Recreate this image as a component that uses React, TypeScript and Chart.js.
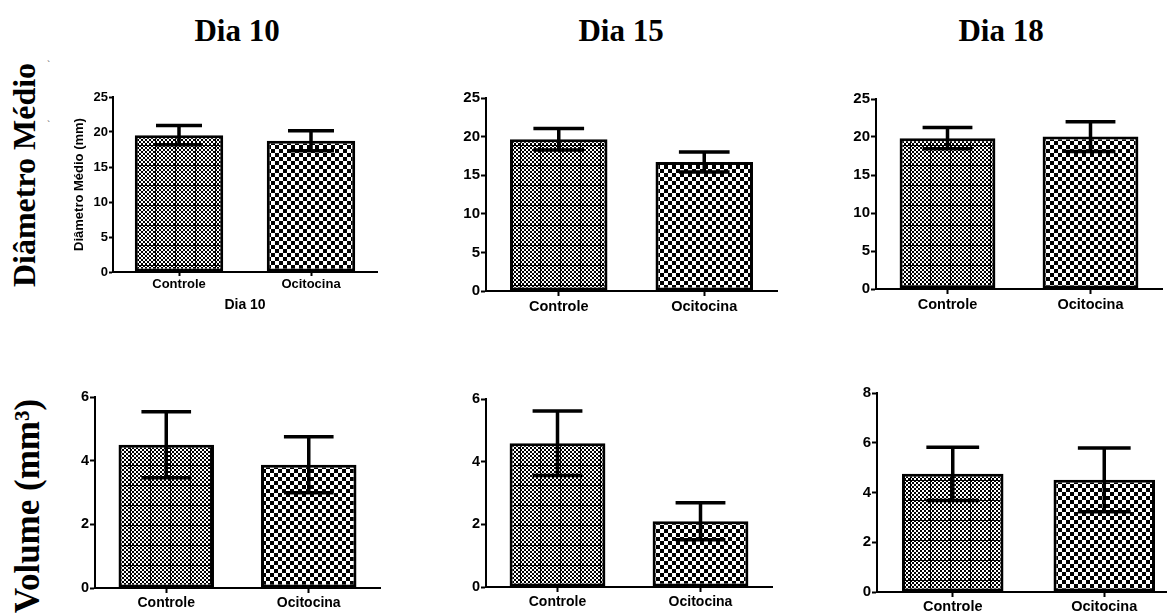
import React, { useEffect, useRef } from "react";
import { Chart, registerables } from "chart.js";

Chart.register(...registerables);

// ---------- data ----------
const categories = ["Controle", "Ocitocina"];
const dayTitles = ["Dia 10", "Dia 15", "Dia 18"];
const rowTitles = ["Diâmetro Médio", "Volume (mm³)"];

const diametroDia10 = [19.55, 18.76];
const diametroDia10Erro = [1.38, 1.43];
const diametroDia15 = [19.65, 16.7];
const diametroDia15Erro = [1.4, 1.3];
const diametroDia18 = [19.84, 20.05];
const diametroDia18Erro = [1.4, 1.96];

const volumeDia10 = [4.5, 3.87];
const volumeDia10Erro = [1.04, 0.88];
const volumeDia15 = [4.59, 2.1];
const volumeDia15Erro = [1.03, 0.59];
const volumeDia18 = [4.75, 4.51];
const volumeDia18Erro = [1.07, 1.28];

const diametroAxis = { max: 25, step: 5 };
const volumeAxis = { max: 6, step: 2 };
const volumeAxisDia18 = { max: 8, step: 2 };

const panel1YTitle = "Diâmetro Médio (mm)";
const panel1XTitle = "Dia 10";

// ---------- helpers ----------
function makeFinePattern(ctx: CanvasRenderingContext2D) {
  const c = document.createElement("canvas");
  c.width = 20;
  c.height = 20;
  const g = c.getContext("2d")!;
  g.fillStyle = "#fff";
  g.fillRect(0, 0, 20, 20);
  g.fillStyle = "#000";
  for (let y = 0; y < 20; y += 2) {
    for (let x = 0; x < 20; x += 2) {
      if (((x + y) / 2) % 2 === 0) g.fillRect(x, y, 2, 2);
    }
  }
  g.fillRect(0, 0, 20, 1);
  g.fillRect(0, 0, 1, 20);
  return ctx.createPattern(c, "repeat")!;
}

function makeCoarsePattern(ctx: CanvasRenderingContext2D) {
  const c = document.createElement("canvas");
  c.width = 8;
  c.height = 8;
  const g = c.getContext("2d")!;
  g.fillStyle = "#fff";
  g.fillRect(0, 0, 8, 8);
  g.fillStyle = "#000";
  g.fillRect(0, 0, 4, 4);
  g.fillRect(4, 4, 4, 4);
  return ctx.createPattern(c, "repeat")!;
}

const errorBarPlugin = {
  id: "errorBars",
  afterDatasetsDraw(chart: any) {
    const ds = chart.data.datasets[0];
    const errs: number[] = ds.errors || [];
    const meta = chart.getDatasetMeta(0);
    const y = chart.scales.y;
    const ctx = chart.ctx;
    ctx.save();
    ctx.strokeStyle = "#000";
    ctx.lineWidth = 3.5;
    ctx.lineCap = "butt";
    meta.data.forEach((el: any, i: number) => {
      const v = ds.data[i];
      const e = errs[i];
      const yt = y.getPixelForValue(v + e);
      const yb = y.getPixelForValue(v - e);
      const hw = (el.width * 0.52) / 2;
      ctx.beginPath();
      ctx.moveTo(el.x, yt);
      ctx.lineTo(el.x, yb);
      ctx.moveTo(el.x - hw, yt);
      ctx.lineTo(el.x + hw, yt);
      ctx.moveTo(el.x - hw, yb);
      ctx.lineTo(el.x + hw, yb);
      ctx.stroke();
    });
    ctx.restore();
  },
};

type Rect = { left: number; top: number; right: number; bottom: number };

type PanelProps = {
  rect: Rect;
  area: Rect;
  values: number[];
  errors: number[];
  axis: { max: number; step: number };
  tickFont: number;
  catFont: number;
  tickLength: number;
  catPadding: number;
  yTitle?: string;
  xTitle?: string;
};

const SANS = "Liberation Sans, Arial, Helvetica, sans-serif";
const SERIF = '"Liberation Serif", "Times New Roman", Times, serif';

function Panel(p: PanelProps) {
  const ref = useRef<HTMLCanvasElement | null>(null);
  const w = p.rect.right - p.rect.left;
  const h = p.rect.bottom - p.rect.top;

  useEffect(() => {
    const canvas = ref.current!;
    const ctx = canvas.getContext("2d")!;
    const fine = makeFinePattern(ctx);
    const coarse = makeCoarsePattern(ctx);
    const yWidth = p.area.left - p.rect.left;
    const xHeight = p.rect.bottom - p.area.bottom;
    const chart = new Chart(canvas, {
      type: "bar",
      data: {
        labels: categories,
        datasets: [
          {
            data: p.values,
            errors: p.errors,
            backgroundColor: [fine, coarse],
            borderColor: "#000",
            borderWidth: 3,
            borderSkipped: false,
            categoryPercentage: 1,
            barPercentage: 0.67,
          } as any,
        ],
      },
      options: {
        responsive: false,
        animation: false,
        devicePixelRatio: 1,
        layout: {
          padding: {
            left: 0,
            top: p.area.top - p.rect.top,
            right: p.rect.right - p.area.right,
            bottom: 0,
          },
        },
        plugins: {
          legend: { display: false },
          tooltip: { enabled: false },
        },
        scales: {
          x: {
            offset: true,
            grid: {
              offset: false,
              drawOnChartArea: false,
              drawTicks: true,
              tickLength: p.tickLength,
              tickWidth: 2,
              tickColor: "#000",
            },
            border: { display: true, color: "#000", width: 2 },
            ticks: {
              color: "#000",
              padding: p.catPadding,
              maxRotation: 0,
              font: { family: SANS, size: p.catFont, weight: "bold" },
            },
            title: p.xTitle
              ? {
                  display: true,
                  text: p.xTitle,
                  color: "#000",
                  font: { family: SANS, size: 14, weight: "bold" },
                  padding: { top: 0, bottom: 4.6 },
                }
              : { display: false },
            afterFit: (s: any) => {
              s.height = xHeight;
            },
          },
          y: {
            min: 0,
            max: p.axis.max,
            grid: {
              drawOnChartArea: false,
              drawTicks: true,
              tickLength: p.tickLength,
              tickWidth: 2,
              tickColor: "#000",
            },
            border: { display: true, color: "#000", width: 2 },
            ticks: {
              stepSize: p.axis.step,
              color: "#000",
              padding: 1,
              font: { family: SANS, size: p.tickFont, weight: "bold" },
            },
            title: p.yTitle
              ? {
                  display: true,
                  text: p.yTitle,
                  color: "#000",
                  font: { family: SANS, size: 13, weight: "bold" },
                  padding: { top: 17, bottom: 0 },
                }
              : { display: false },
            afterFit: (s: any) => {
              s.width = yWidth;
            },
          },
        },
      },
      plugins: [errorBarPlugin],
    } as any);
    return () => chart.destroy();
  }, []);

  return (
    <canvas
      ref={ref}
      width={w}
      height={h}
      style={{ position: "absolute", left: p.rect.left, top: p.rect.top, width: w, height: h }}
    />
  );
}

const panels: PanelProps[] = [
  {
    rect: { left: 55, top: 85, right: 385, bottom: 318 },
    area: { left: 113, top: 97, right: 377, bottom: 272 },
    values: diametroDia10,
    errors: diametroDia10Erro,
    axis: diametroAxis,
    tickFont: 13,
    catFont: 13,
    tickLength: 4,
    catPadding: 1,
    yTitle: panel1YTitle,
    xTitle: panel1XTitle,
  },
  {
    rect: { left: 440, top: 85, right: 785, bottom: 318 },
    area: { left: 486, top: 98, right: 777, bottom: 291 },
    values: diametroDia15,
    errors: diametroDia15Erro,
    axis: diametroAxis,
    tickFont: 15,
    catFont: 14.5,
    tickLength: 5,
    catPadding: 2,
  },
  {
    rect: { left: 830, top: 85, right: 1167, bottom: 318 },
    area: { left: 876, top: 99, right: 1162, bottom: 289 },
    values: diametroDia18,
    errors: diametroDia18Erro,
    axis: diametroAxis,
    tickFont: 15,
    catFont: 14.5,
    tickLength: 5,
    catPadding: 2,
  },
  {
    rect: { left: 50, top: 385, right: 390, bottom: 613 },
    area: { left: 95, top: 397, right: 380, bottom: 588 },
    values: volumeDia10,
    errors: volumeDia10Erro,
    axis: volumeAxis,
    tickFont: 14.5,
    catFont: 14,
    tickLength: 5,
    catPadding: 2,
  },
  {
    rect: { left: 440, top: 385, right: 780, bottom: 613 },
    area: { left: 486, top: 399, right: 772, bottom: 587 },
    values: volumeDia15,
    errors: volumeDia15Erro,
    axis: volumeAxis,
    tickFont: 14.5,
    catFont: 14,
    tickLength: 5,
    catPadding: 2,
  },
  {
    rect: { left: 830, top: 380, right: 1190, bottom: 613 },
    area: { left: 877, top: 393, right: 1180, bottom: 592 },
    values: volumeDia18,
    errors: volumeDia18Erro,
    axis: volumeAxisDia18,
    tickFont: 15,
    catFont: 14.5,
    tickLength: 5,
    catPadding: 1,
  },
];

const dayTitleX = [237, 621, 1001];

export default function App() {
  const titleStyle = (x: number, y: number): React.CSSProperties => ({
    position: "absolute",
    left: x,
    top: y,
    transform: "translate(-50%, -50%)",
    fontFamily: SERIF,
    fontWeight: "bold",
    fontSize: 31,
    lineHeight: "31px",
    whiteSpace: "nowrap",
    color: "#000",
  });
  const rowStyle = (x: number, y: number, size: number): React.CSSProperties => ({
    position: "absolute",
    left: x,
    top: y,
    transform: "translate(-50%, -50%) rotate(-90deg)",
    fontFamily: SERIF,
    fontWeight: "bold",
    fontSize: size,
    lineHeight: `${size}px`,
    whiteSpace: "nowrap",
    color: "#000",
  });
  return (
    <div
      style={{
        position: "absolute",
        left: 0,
        top: 0,
        width: 1167,
        height: 613,
        overflow: "hidden",
        background: "#fff",
      }}
    >
      {dayTitles.map((t, i) => (
        <div key={t} style={titleStyle(dayTitleX[i], 30)}>
          {t}
        </div>
      ))}
      <div style={rowStyle(24, 175, 32)}>{rowTitles[0]}</div>
      <div style={rowStyle(27, 506, 35)}>{rowTitles[1]}</div>
      <div style={{ position: "absolute", left: 47, top: 60, fontSize: 10, color: "#555", fontFamily: SANS }}>`</div>
      <div style={{ position: "absolute", left: 47, top: 120, fontSize: 10, color: "#555", fontFamily: SANS }}>`</div>
      {panels.map((p, i) => (
        <Panel key={i} {...p} />
      ))}
    </div>
  );
}
